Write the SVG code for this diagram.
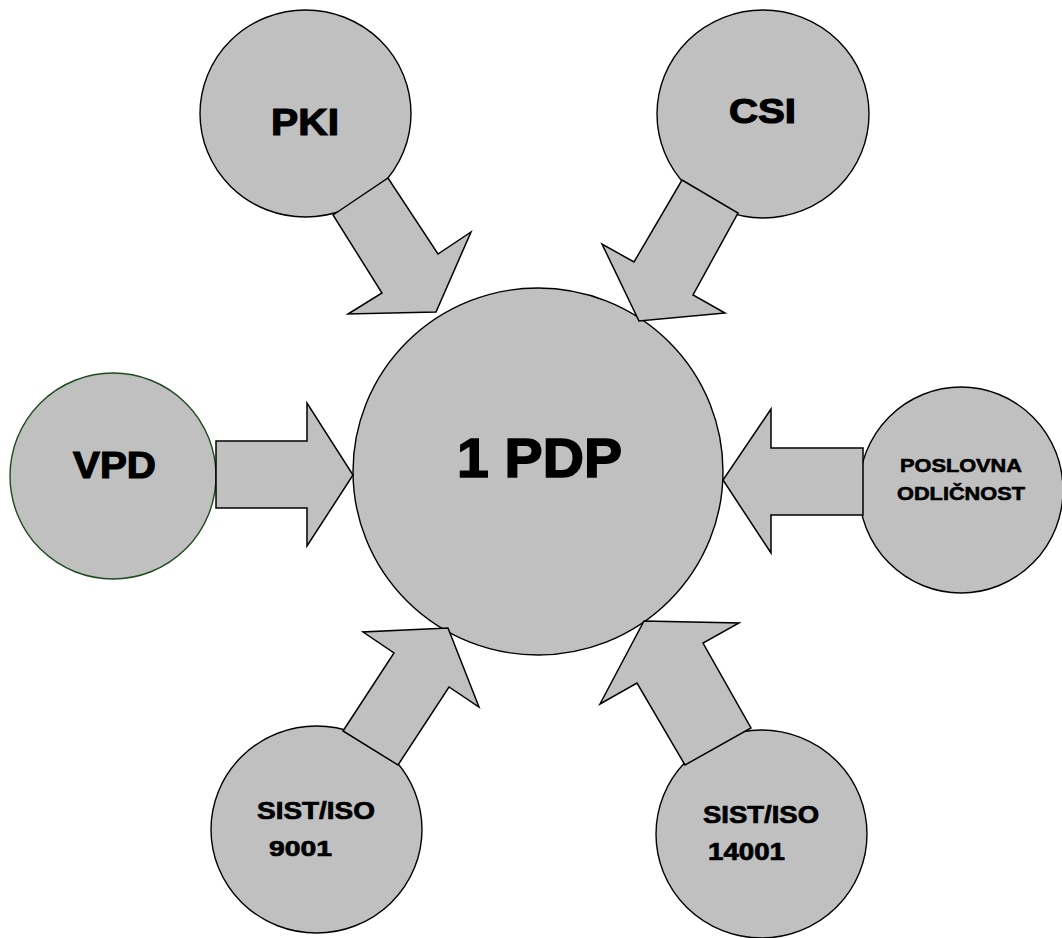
<svg xmlns="http://www.w3.org/2000/svg" width="1062" height="938" viewBox="0 0 1062 938">
<style>
.n{fill:#c0c0c0;stroke:#000;stroke-width:1.4}
.a{fill:#c0c0c0;stroke:#000;stroke-width:1.5;stroke-linejoin:miter}
.t{font-family:"Liberation Sans",Arial,sans-serif;font-weight:bold;fill:#000;stroke:#000;text-anchor:middle}
</style>
<rect width="1062" height="938" fill="#fff"/>
<g id="node-pdp"><ellipse class="n" cx="538" cy="471.5" rx="185" ry="183.5"/><text class="t" x="539.5" y="477" font-size="55" stroke-width="1.6" textLength="165" lengthAdjust="spacingAndGlyphs">1 PDP</text></g>
<g id="node-pki"><ellipse class="n" cx="305.5" cy="113.5" rx="105.5" ry="103.5"/><text class="t" x="305" y="135" font-size="37" stroke-width="1.2" textLength="68" lengthAdjust="spacingAndGlyphs">PKI</text></g>
<g id="node-csi"><ellipse class="n" cx="763" cy="114" rx="106" ry="104"/><text class="t" x="762.5" y="123" font-size="35" stroke-width="1.2" textLength="67" lengthAdjust="spacingAndGlyphs">CSI</text></g>
<g id="node-vpd"><ellipse class="n" cx="113" cy="476" rx="103" ry="103" style="stroke:#1f4a1f"/><text class="t" x="114.5" y="478" font-size="37" stroke-width="1.2" textLength="83" lengthAdjust="spacingAndGlyphs">VPD</text></g>
<g id="node-poslovna"><ellipse class="n" cx="961" cy="490" rx="102" ry="103"/><text class="t" x="961" y="472" font-size="19" stroke-width="0.6" textLength="122" lengthAdjust="spacingAndGlyphs">POSLOVNA</text><text class="t" x="961" y="500" font-size="19" stroke-width="0.6" textLength="128" lengthAdjust="spacingAndGlyphs">ODLIČNOST</text></g>
<g id="node-iso9001"><ellipse class="n" cx="316.5" cy="829.5" rx="105.5" ry="103.5"/><text class="t" x="316" y="819" font-size="23" stroke-width="0.7" textLength="118" lengthAdjust="spacingAndGlyphs">SIST/ISO</text><text class="t" x="300.5" y="856" font-size="22" stroke-width="0.7" textLength="63" lengthAdjust="spacingAndGlyphs">9001</text></g>
<g id="node-iso14001"><ellipse class="n" cx="761.5" cy="834" rx="105.5" ry="104"/><text class="t" x="761" y="823" font-size="23" stroke-width="0.7" textLength="116" lengthAdjust="spacingAndGlyphs">SIST/ISO</text><text class="t" x="746.5" y="860" font-size="23" stroke-width="0.7" textLength="77" lengthAdjust="spacingAndGlyphs">14001</text></g>
<g id="connectors">
<polygon class="a" points="333,215 388,178 438,254 471,232 436,312 348,314 382,293"/>
<polygon class="a" points="682,180 738,213 693,295 725,313 639,321 602,244 634,262"/>
<polygon class="a" points="216,441 307,441 307,403 353,475 307,546 307,508 216,508"/>
<polygon class="a" points="863,448 771,448 771,409 723,480 771,553 771,515 863,515"/>
<polygon class="a" points="343,731 394,653 363,632 448,628 479,707 449,687 398,765"/>
<polygon class="a" points="685,765 637,683 600,704 644,621 739,623 703,643 751,728"/>
</g>
</svg>
